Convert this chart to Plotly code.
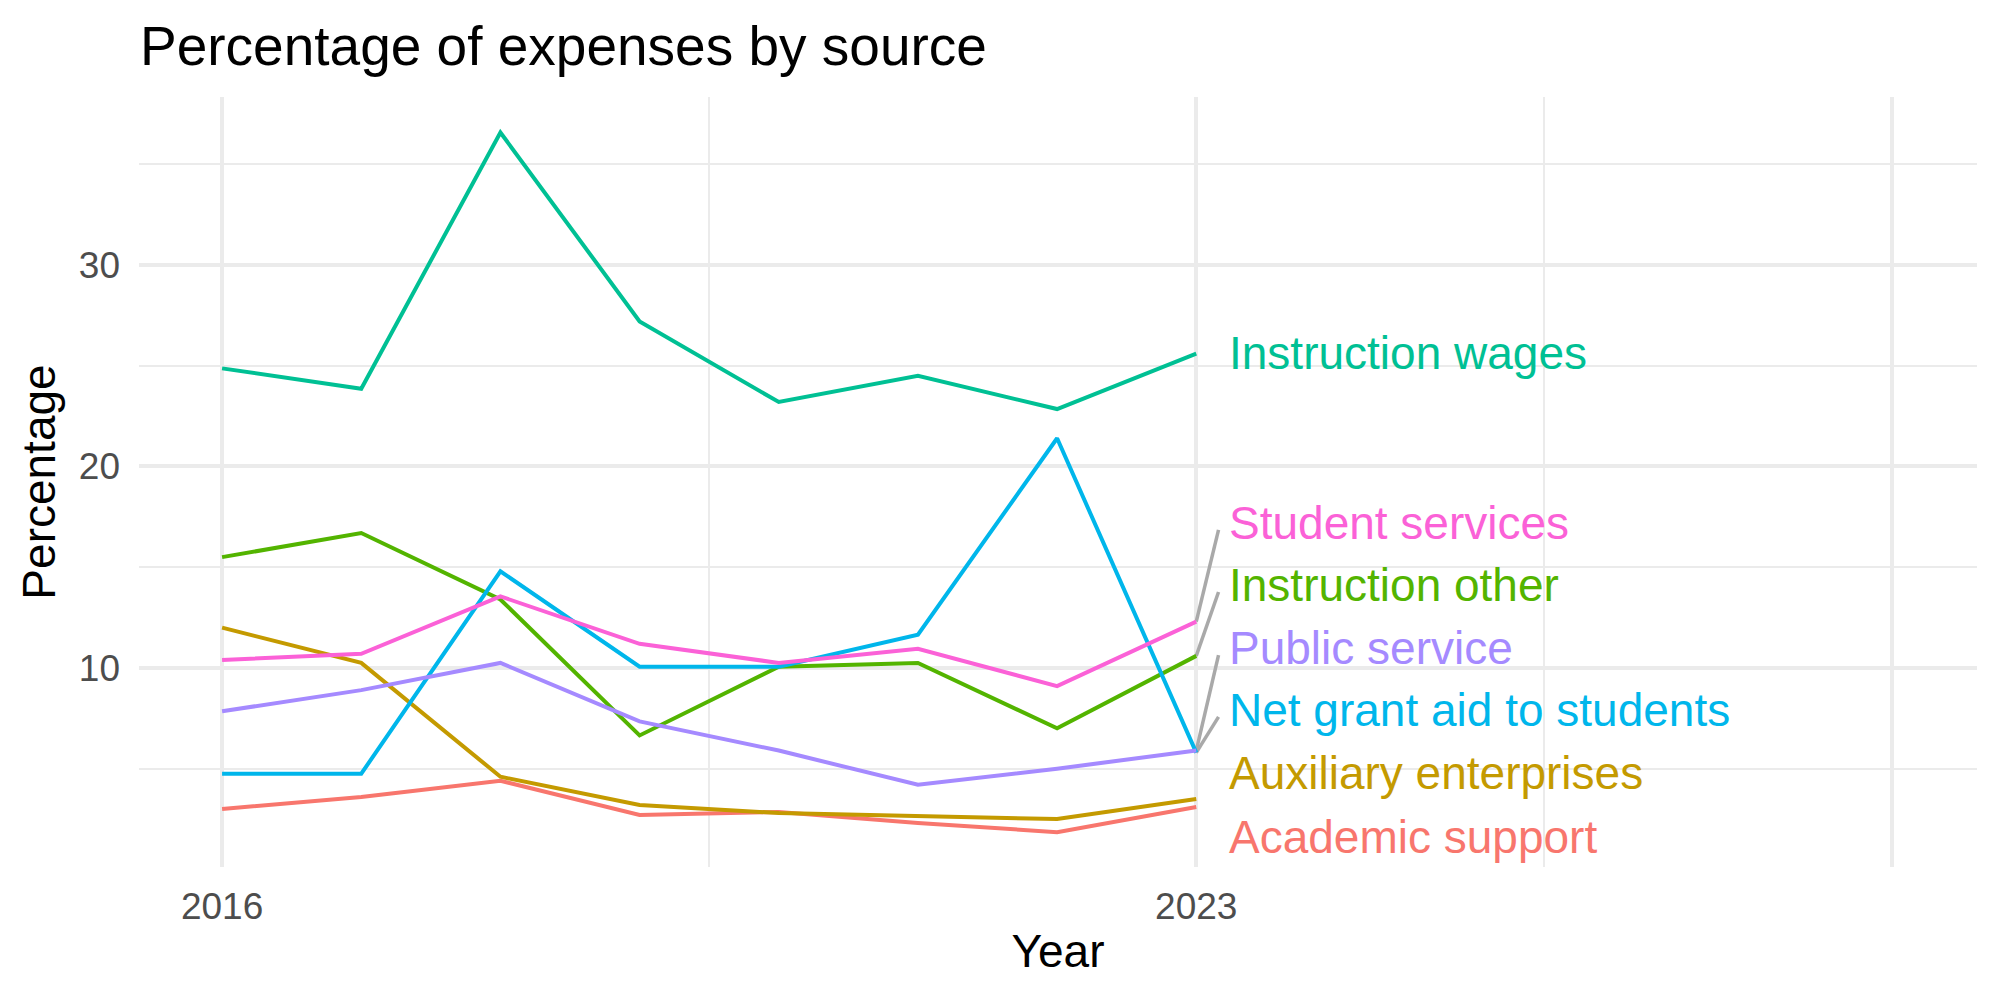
import plotly.graph_objects as go

years = [2016, 2017, 2018, 2019, 2020, 2021, 2022, 2023]

academic_support = [3.0, 3.6, 4.4, 2.7, 2.85, 2.3, 1.85, 3.1]
auxiliary_enterprises = [12.0, 10.25, 4.6, 3.2, 2.8, 2.65, 2.5, 3.5]
instruction_other = [15.5, 16.7, 13.4, 6.65, 10.06, 10.25, 7.0, 10.6]
instruction_wages = [24.87, 23.86, 36.58, 27.2, 23.2, 24.5, 22.85, 25.6]
net_grant_aid = [4.75, 4.75, 14.8, 10.06, 10.06, 11.65, 21.4, 5.8]
public_service = [7.85, 8.9, 10.25, 7.35, 5.9, 4.2, 5.0, 5.9]
student_services = [10.4, 10.7, 13.55, 11.2, 10.25, 10.95, 9.1, 12.3]

series_names = ["Academic support", "Auxiliary enterprises", "Instruction other",
                "Instruction wages", "Net grant aid to students", "Public service",
                "Student services"]
series_values = [academic_support, auxiliary_enterprises, instruction_other,
                 instruction_wages, net_grant_aid, public_service, student_services]
colors = ["#F8766D", "#C49A00", "#53B400", "#00C094", "#00B6EB", "#A58AFF", "#FB61D7"]

# repelled label positions (y, in data units) and whether a leader segment is drawn
label_y = [1.61, 4.79, 14.12, 25.63, 7.92, 10.99, 17.2]
label_segment = [False, False, True, False, True, True, True]
label_x = 2023.22
segment_x = 2023.16

x_tickvals = [2016, 2023, 2028]
x_ticktext = ["2016", "2023", ""]
x_minor = [2019.5, 2025.5]
y_tickvals = [10, 20, 30]
y_minor = [5, 15, 25, 35]

FONT = "Liberation Sans, Arial, Helvetica, sans-serif"

fig = go.Figure()

# leader segments
for name, vals, lab, seg in zip(series_names, series_values, label_y, label_segment):
    if seg:
        fig.add_trace(go.Scatter(
            x=[years[-1], segment_x], y=[vals[-1], lab - 0.35],
            mode="lines", line=dict(color="#A9A9A9", width=3.5),
            showlegend=False, hoverinfo="skip"))

for name, vals, col in zip(series_names, series_values, colors):
    fig.add_trace(go.Scatter(
        x=years, y=vals, mode="lines", name=name,
        line=dict(color=col, width=4), showlegend=False))

for name, col, lab in zip(series_names, colors, label_y):
    fig.add_annotation(x=label_x, y=lab, text=name, showarrow=False,
                       xanchor="left", yanchor="middle",
                       font=dict(family=FONT, size=46, color=col))

fig.update_layout(
    width=2000, height=1000,
    margin=dict(l=139, r=23, t=97, b=133),
    paper_bgcolor="white", plot_bgcolor="white",
    font=dict(family=FONT),
    title=dict(text="Percentage of expenses by source",
               font=dict(family=FONT, size=55, color="black"),
               x=140 / 2000, xref="container", xanchor="left",
               y=1 - 46 / 1000, yref="container", yanchor="middle"),
)

fig.update_xaxes(
    range=[2015.403, 2028.61],
    tickvals=x_tickvals, ticktext=x_ticktext,
    showgrid=True, gridcolor="#EBEBEB", gridwidth=4,
    minor=dict(tickvals=x_minor, showgrid=True, gridcolor="#EBEBEB", gridwidth=2),
    zeroline=False, showline=False, ticks="",
    tickfont=dict(family=FONT, size=37, color="#4D4D4D"),
    ticklabelstandoff=14,
    title=dict(text="Year", font=dict(family=FONT, size=46, color="black"), standoff=8),
)
fig.update_yaxes(
    range=[0.12, 38.34],
    tickvals=y_tickvals,
    showgrid=True, gridcolor="#EBEBEB", gridwidth=4,
    minor=dict(tickvals=y_minor, showgrid=True, gridcolor="#EBEBEB", gridwidth=2),
    zeroline=False, showline=False, ticks="", ticklen=0,
    tickfont=dict(family=FONT, size=37, color="#4D4D4D"),
    ticklabelstandoff=18,
    title=dict(text="Percentage", font=dict(family=FONT, size=46, color="black"), standoff=8),
)

fig.write_html("out.html")
